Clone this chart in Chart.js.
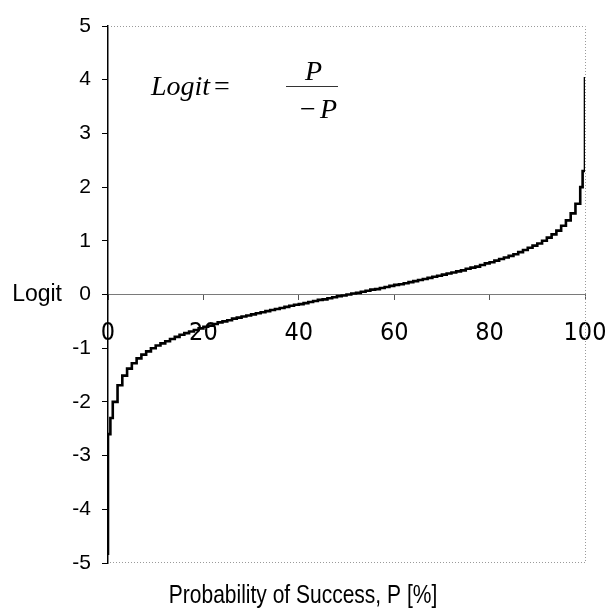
<!DOCTYPE html>
<html>
<head>
<meta charset="utf-8">
<script src="https://cdn.jsdelivr.net/npm/chart.js@4/dist/chart.umd.min.js"></script>
<style>
  html, body { margin: 0; padding: 0; background: #fff; }
  canvas { display: block; }
</style>
</head>
<body>
<canvas id="logit" width="605" height="608"></canvas>
<script>
// probability of success P [%] and the logit
const probability = [0, 0, 0.5,
  1, 2, 3, 4, 5, 6, 7, 8, 9, 10,
  11, 12, 13, 14, 15, 16, 17, 18, 19, 20,
  21, 22, 23, 24, 25, 26, 27, 28, 29, 30,
  31, 32, 33, 34, 35, 36, 37, 38, 39, 40,
  41, 42, 43, 44, 45, 46, 47, 48, 49, 50,
  51, 52, 53, 54, 55, 56, 57, 58, 59, 60,
  61, 62, 63, 64, 65, 66, 67, 68, 69, 70,
  71, 72, 73, 74, 75, 76, 77, 78, 79, 80,
  81, 82, 83, 84, 85, 86, 87, 88, 89, 90,
  91, 92, 93, 94, 95, 96, 97, 98, 99,
  99.5, 100, 100];
const logit = [-4.85, -2.6, -2.3,
  -2.00, -1.69, -1.51, -1.38, -1.28, -1.19, -1.12, -1.06, -1.00, -0.95,
  -0.91, -0.87, -0.83, -0.79, -0.75, -0.72, -0.69, -0.66, -0.63, -0.60,
  -0.58, -0.55, -0.52, -0.50, -0.48, -0.45, -0.43, -0.41, -0.39, -0.37,
  -0.35, -0.33, -0.31, -0.29, -0.27, -0.25, -0.23, -0.21, -0.19, -0.18,
  -0.16, -0.14, -0.12, -0.10, -0.09, -0.07, -0.05, -0.03, -0.02, 0.00,
  0.02, 0.03, 0.05, 0.07, 0.09, 0.10, 0.12, 0.14, 0.16, 0.18,
  0.19, 0.21, 0.23, 0.25, 0.27, 0.29, 0.31, 0.33, 0.35, 0.37,
  0.39, 0.41, 0.43, 0.45, 0.48, 0.50, 0.52, 0.55, 0.58, 0.60,
  0.63, 0.66, 0.69, 0.72, 0.75, 0.79, 0.83, 0.87, 0.91, 0.95,
  1.00, 1.06, 1.12, 1.19, 1.28, 1.38, 1.51, 1.69, 2.00,
  2.3, 2.6, 4.05];

const xTicks = [0, 20, 40, 60, 80, 100];
const yTicks = [-5, -4, -3, -2, -1, 0, 1, 2, 3, 4, 5];

const narrow = "'DejaVu Sans Condensed', 'Liberation Sans', Arial, sans-serif";
const sans = "'Liberation Sans', Arial, sans-serif";
const serif = "'Liberation Serif', 'Times New Roman', serif";

const decorations = {
    id: 'decorations',
    afterDraw(chart) {
        const { ctx, chartArea: area, scales } = chart;
        ctx.save();

        // dotted frame on top, right and bottom
        ctx.strokeStyle = '#9a9a9a';
        ctx.lineWidth = 1;
        ctx.setLineDash([1, 2]);
        ctx.beginPath();
        ctx.moveTo(area.left, area.top + 0.5);
        ctx.lineTo(area.right + 0.5, area.top + 0.5);
        ctx.lineTo(area.right + 0.5, area.bottom - 0.5);
        ctx.lineTo(area.left, area.bottom - 0.5);
        ctx.stroke();
        ctx.setLineDash([]);

        ctx.fillStyle = '#000';
        ctx.textBaseline = 'middle';

        // y axis label, horizontal, next to the 0 tick
        ctx.font = '23px ' + sans;
        ctx.textAlign = 'right';
        ctx.fillText('Logit', 62, scales.y.getPixelForValue(0));

        // formula
        ctx.textBaseline = 'alphabetic';
        ctx.font = 'italic 28px ' + serif;
        ctx.textAlign = 'left';
        ctx.fillText('Logit', 151, 95);
        ctx.font = '28px ' + serif;
        ctx.fillText('=', 214, 95);
        ctx.font = 'italic 28px ' + serif;
        ctx.fillText('P', 305, 80);
        ctx.font = '28px ' + serif;
        ctx.fillText('\u2212', 300, 118);
        ctx.font = 'italic 28px ' + serif;
        ctx.fillText('P', 320, 118);
        ctx.strokeStyle = '#333';
        ctx.lineWidth = 1;
        ctx.beginPath();
        ctx.moveTo(286, 86.5);
        ctx.lineTo(338, 86.5);
        ctx.stroke();

        // x axis title, squeezed like a narrow face
        ctx.font = '25px ' + sans;
        ctx.textAlign = 'center';
        ctx.translate(303, 603);
        ctx.scale(0.84, 1);
        ctx.fillText('Probability of Success, P [%]', 0, 0);

        ctx.restore();
    }
};

new Chart(document.getElementById('logit').getContext('2d'), {
    type: 'line',
    data: {
        datasets: [{
            data: probability.map((p, i) => ({ x: p, y: logit[i] })),
            borderColor: '#000',
            borderWidth: 2.6,
            pointRadius: 0,
            fill: false,
            stepped: 'before',
            tension: 0
        }]
    },
    options: {
        responsive: false,
        animation: false,
        events: [],
        layout: { padding: { left: 0, right: 20, top: 26, bottom: 45 } },
        plugins: {
            legend: { display: false },
            tooltip: { enabled: false }
        },
        scales: {
            x: {
                type: 'linear',
                position: { y: 0 },
                min: 0,
                max: 100,
                afterBuildTicks: (scale) => { scale.ticks = xTicks.map(v => ({ value: v })); },
                afterFit: (scale) => { scale.paddingLeft = 0; scale.paddingRight = 0; },
                ticks: {
                    color: '#000',
                    font: { family: narrow, size: 25 },
                    padding: 19,
                    maxRotation: 0
                },
                grid: { drawOnChartArea: false, drawTicks: true, tickLength: 5, color: '#555' },
                border: { color: '#7a7a7a', width: 1 }
            },
            y: {
                min: -5,
                max: 5,
                afterBuildTicks: (scale) => { scale.ticks = yTicks.map(v => ({ value: v })); },
                afterFit: (scale) => { scale.width = 108; },
                ticks: {
                    color: '#000',
                    font: { family: sans, size: 21 },
                    padding: 11
                },
                grid: { drawOnChartArea: false, drawTicks: true, tickLength: 6, color: '#000' },
                border: { color: '#000', width: 1.5 }
            }
        }
    },
    plugins: [decorations]
});
</script>
</body>
</html>
